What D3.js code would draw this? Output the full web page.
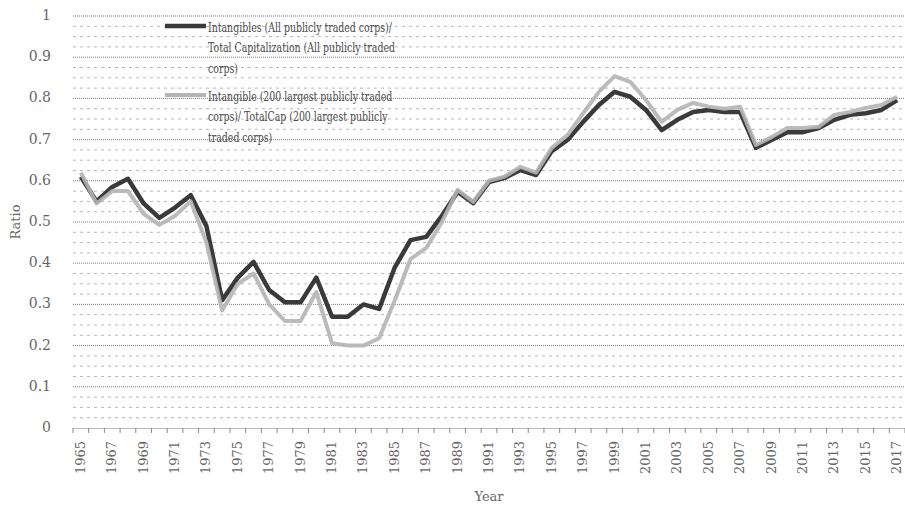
<!DOCTYPE html>
<html>
<head>
<meta charset="utf-8">
<script src="https://cdn.jsdelivr.net/npm/d3@7"></script>
<style>
  body { margin: 0; background: #fff; }
  svg { display: block; }
  text { font-family: "DejaVu Serif", serif; }
</style>
</head>
<body>
<div id="chart"></div>
<script>
// years on the category axis
const years = d3.range(1965, 2018);

// Intangibles / Total Capitalization, all publicly traded corps
const allCorps = [0.61, 0.55, 0.585, 0.605, 0.545, 0.51, 0.535, 0.565, 0.49, 0.31,
  0.365, 0.403, 0.335, 0.305, 0.305, 0.365, 0.27, 0.27, 0.30, 0.289,
  0.39, 0.456, 0.464, 0.515, 0.573, 0.546, 0.597, 0.607, 0.626, 0.614,
  0.672, 0.699, 0.743, 0.784, 0.816, 0.804, 0.772, 0.723, 0.748, 0.767,
  0.772, 0.767, 0.767, 0.68, 0.699, 0.718, 0.718, 0.728, 0.748, 0.76,
  0.764, 0.772, 0.796];

// Intangible / TotalCap, 200 largest publicly traded corps
const top200 = [0.62, 0.545, 0.575, 0.575, 0.52, 0.493, 0.515, 0.55, 0.45, 0.285,
  0.35, 0.375, 0.30, 0.26, 0.26, 0.33, 0.206, 0.20, 0.20, 0.218,
  0.31, 0.41, 0.437, 0.50, 0.578, 0.549, 0.60, 0.61, 0.634, 0.62,
  0.68, 0.711, 0.764, 0.816, 0.854, 0.84, 0.796, 0.743, 0.772, 0.789,
  0.78, 0.775, 0.78, 0.687, 0.706, 0.728, 0.728, 0.731, 0.76, 0.767,
  0.777, 0.784, 0.804];

const yTicks = [0, 0.1, 0.2, 0.3, 0.4, 0.5, 0.6, 0.7, 0.8, 0.9, 1];
const xTickYears = years.filter(y => (y - 1965) % 2 === 0);

const legendAll = ["Intangibles (All publicly traded corps)/",
  "Total Capitalization (All publicly traded",
  "corps)"];
const legendTop = ["Intangible (200 largest publicly traded",
  "corps)/ TotalCap (200 largest publicly",
  "traded corps)"];

const width = 905, height = 506,
      margin = ({ top: 16, right: 0, bottom: 78, left: 73 });

let svg = d3.select("#chart")
  .append("svg")
  .attr("width", width)
  .attr("height", height);

let x = d3.scaleBand()
  .domain(years)
  .range([margin.left, width - margin.right])
  .padding(0);

let y = d3.scaleLinear()
  .domain([0, 1])
  .range([height - margin.bottom, margin.top]);

const cx = d => x(d) + x.bandwidth() / 2;

// faint minor grid (every 0.025), scan-like
svg.append("g")
  .selectAll("line")
  .data(d3.range(0.025, 1, 0.025).filter(v => Math.abs(v * 10 - Math.round(v * 10)) > 0.01))
  .join("line")
  .attr("x1", margin.left)
  .attr("x2", width - margin.right)
  .attr("y1", d => y(d))
  .attr("y2", d => y(d))
  .attr("stroke", "#b8b8b8")
  .attr("stroke-width", 1)
  .attr("stroke-dasharray", "3,4");

// major grid
svg.append("g")
  .selectAll("line")
  .data(yTicks.slice(1))
  .join("line")
  .attr("x1", margin.left)
  .attr("x2", width - margin.right)
  .attr("y1", d => y(d))
  .attr("y2", d => y(d))
  .attr("stroke", "#7a7a7a")
  .attr("stroke-width", 1)
  .attr("stroke-dasharray", "1,1");

// y axis labels
svg.append("g")
  .selectAll("text")
  .data(yTicks)
  .join("text")
  .attr("x", 51)
  .attr("y", d => y(d))
  .attr("text-anchor", "end")
  .attr("dominant-baseline", "middle")
  .attr("font-size", 14)
  .attr("fill", "#666")
  .text(d => d3.format("")(d));

// x axis
let xAxis = svg.append("g")
  .attr("transform", `translate(0,${y(0)})`)
  .call(d3.axisBottom(x).tickValues([]).tickSize(0).tickSizeOuter(0));
xAxis.select(".domain").attr("stroke", "#777").attr("stroke-dasharray", "1,1");

svg.append("g")
  .selectAll("line")
  .data(years.concat([null]))
  .join("line")
  .attr("x1", (d, i) => margin.left + i * x.bandwidth())
  .attr("x2", (d, i) => margin.left + i * x.bandwidth())
  .attr("y1", y(0))
  .attr("y2", y(0) + 5)
  .attr("stroke", "#888");

svg.append("g")
  .selectAll("text")
  .data(xTickYears)
  .join("text")
  .attr("transform", d => `translate(${cx(d) + 4},${y(0) + 13}) rotate(-90)`)
  .attr("text-anchor", "end")
  .attr("font-size", 13)
  .attr("fill", "#666")
  .text(d => d);

// axis titles
svg.append("text")
  .attr("transform", `translate(20,${y(0.5)}) rotate(-90)`)
  .attr("text-anchor", "middle")
  .attr("font-size", 13)
  .attr("fill", "#666")
  .text("Ratio");

svg.append("text")
  .attr("x", 489)
  .attr("y", 501)
  .attr("text-anchor", "middle")
  .attr("font-size", 13)
  .attr("fill", "#666")
  .text("Year");

// lines
let line = d3.line()
  .x((d, i) => cx(years[i]))
  .y(d => y(d))
  .curve(d3.curveLinear);

svg.append("path")
  .datum(allCorps)
  .attr("fill", "none")
  .attr("stroke", "#3a3a3a")
  .attr("stroke-width", 4.5)
  .attr("stroke-linejoin", "round")
  .attr("d", line);

svg.append("path")
  .datum(top200)
  .attr("fill", "none")
  .attr("stroke", "#b4b4b4")
  .attr("stroke-opacity", 0.9)
  .attr("stroke-width", 4)
  .attr("stroke-linejoin", "round")
  .attr("d", line);

// legend
const legend = [
  { lines: legendAll, color: "#3a3a3a", w: 4.5, y0: 28 },
  { lines: legendTop, color: "#b4b4b4", w: 4, y0: 97 }
];

let lg = svg.append("g")
  .selectAll("g")
  .data(legend)
  .join("g");

lg.append("line")
  .attr("x1", 165)
  .attr("x2", 206)
  .attr("y1", d => d.y0 - 2)
  .attr("y2", d => d.y0 - 2)
  .attr("stroke", d => d.color)
  .attr("stroke-width", d => d.w);

lg.each(function(d) {
  d3.select(this).selectAll("text")
    .data(d.lines)
    .join("text")
    .attr("x", 208)
    .attr("y", (t, i) => d.y0 + i * 20.5)
    .attr("dominant-baseline", "middle")
    .attr("font-family", "Liberation Serif, serif")
    .attr("font-size", 12.5)
    .attr("fill", "#4a4a4a")
    .text(t => t)
    .each(function() {
      // the scanned legend font runs narrower than Times
      const len = this.getComputedTextLength();
      d3.select(this).attr("textLength", len * 0.75).attr("lengthAdjust", "spacingAndGlyphs");
    });
});
</script>
</body>
</html>
